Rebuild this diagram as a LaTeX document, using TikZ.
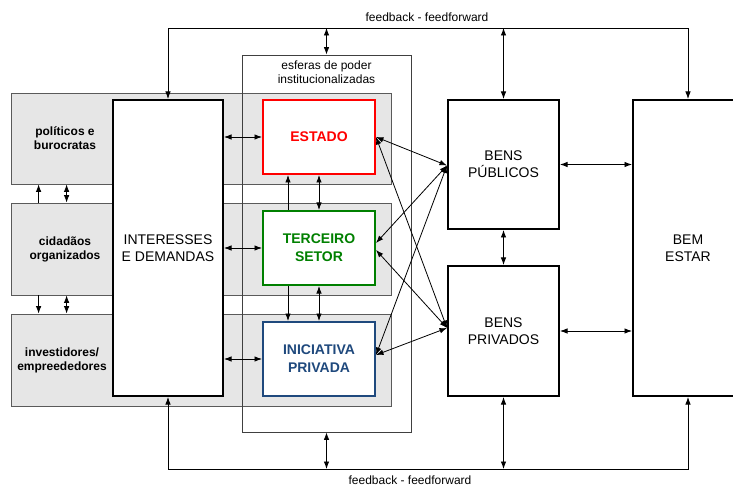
\documentclass[tikz,border=0pt]{standalone}
\usepackage{fontspec}
\setmainfont{Liberation Sans}
\usetikzlibrary{arrows.meta}
\definecolor{bandfill}{RGB}{230,230,230}
\definecolor{bandline}{RGB}{90,90,90}
\definecolor{estred}{RGB}{255,0,0}
\definecolor{tergreen}{RGB}{0,128,0}
\definecolor{iniblue}{RGB}{31,73,125}
\begin{document}
\begin{tikzpicture}[
		x=1pt, y=-1pt,
		band/.style={draw=bandline, fill=bandfill, line width=0.8pt, minimum width=380pt, minimum height=92pt, inner sep=0pt},
		box/.style={draw=black, line width=2pt, fill=white, align=center, inner sep=0pt, font=\fontsize{14}{17}\selectfont},
		sfera/.style={box, font=\bfseries\fontsize{14}{18}\selectfont, minimum width=112pt, minimum height=74pt},
		lbl/.style={font=\bfseries\fontsize{12}{14}\selectfont, align=center},
		txt/.style={font=\fontsize{12}{14}\selectfont, align=center},
		arr/.style={-{Latex[length=7.5pt,width=5.5pt]}, line width=0.8pt},
		darr/.style={{Latex[length=7.5pt,width=5.5pt]}-{Latex[length=7.5pt,width=5.5pt]}, line width=0.8pt}
		]
		\useasboundingbox (0,0) rectangle (733,486);
		% --- faixas dos atores ---
		\node[band, minimum height=91pt] (b1) at (201,138.5) {};
		\node[band] (b2) at (201,249) {};
		\node[band] (b3) at (201,360) {};
		\node[lbl] (pol) at (65,138) {políticos e\\burocratas};
		\node[lbl] (cid) at (65,249) {cidadãos\\organizados};
		\node[lbl] (inv) at (62,360) {investidores/\\empreededores};
		\draw[arr] ([xshift=28pt]b2.north west) -- ([xshift=28pt]b1.south west);
		\draw[darr] ([xshift=56pt]b2.north west) -- ([xshift=56pt]b1.south west);
		\draw[arr] ([xshift=28pt]b2.south west) -- ([xshift=28pt]b3.north west);
		\draw[darr] ([xshift=56pt]b2.south west) -- ([xshift=56pt]b3.north west);
		% --- esferas de poder ---
		\node[draw=black!75, line width=0.8pt, minimum width=169pt, minimum height=377pt, inner sep=0pt] (esf) at (326.5,243.5) {};
		\node[txt] (esft) at (326.5,72) {esferas de poder\\institucionalizadas};
		\node[box, minimum width=110pt, minimum height=296pt] (ies) at (168,248) {INTERESSES\\E DEMANDAS};
		\node[sfera, draw=estred, text=estred] (est) at (319,137) {ESTADO};
		\node[sfera, draw=tergreen, text=tergreen] (ter) at (319,248) {TERCEIRO\\SETOR};
		\node[sfera, draw=iniblue, text=iniblue] (ini) at (319,359) {INICIATIVA\\PRIVADA};
		\draw[darr] (ies.east |- est.west) -- (est.west);
		\draw[darr] (ies.east |- ter.west) -- (ter.west);
		\draw[darr] (ies.east |- ini.west) -- (ini.west);
		\draw[arr] ([xshift=-31pt]ter.north) -- ([xshift=-31pt]est.south);
		\draw[darr] (ter.north) -- (est.south);
		\draw[arr] ([xshift=-31pt]ter.south) -- ([xshift=-31pt]ini.north);
		\draw[darr] (ter.south) -- (ini.north);
		% --- bens e bem estar ---
		\node[box, minimum width=111pt, minimum height=129pt] (pub) at (503.5,164.5) {BENS\\PÚBLICOS};
		\node[box, minimum width=111pt, minimum height=130pt] (priv) at (503.5,331) {BENS\\PRIVADOS};
		\node[box, minimum width=110pt, minimum height=296pt] (bem) at (688,248) {BEM\\ESTAR};
		\draw[darr] (est.east) -- ([yshift=-1pt]pub.west);
		\draw[darr] (est.east) -- ([yshift=3pt]priv.west);
		\draw[darr] ([yshift=5pt]ter.east) -- ([yshift=-1pt]pub.west);
		\draw[darr] ([yshift=-2pt]ter.east) -- ([yshift=3pt]priv.west);
		\draw[darr] ([yshift=4pt]ini.east) -- ([yshift=-1pt]pub.west);
		\draw[darr] ([yshift=4pt]ini.east) -- ([yshift=3pt]priv.west);
		\draw[darr] (pub.east) -- (pub.east -| bem.west);
		\draw[darr] (priv.east) -- (priv.east -| bem.west);
		\draw[darr] (pub.south) -- (priv.north);
		% --- feedback - feedforward ---
		\coordinate (fbt) at (0,28);
		\coordinate (fbb) at (0,469);
		\node[txt] (fbtl) at (427,17) {feedback - feedforward};
		\node[txt] (fbbl) at (410,480) {feedback - feedforward};
		\draw[darr] (ies.north) -- (ies.north |- fbt) -- (bem.north |- fbt) -- (bem.north);
		\draw[darr] (esf.north) -- (esf.north |- fbt);
		\draw[darr] (pub.north) -- (pub.north |- fbt);
		\draw[darr] (ies.south) -- (ies.south |- fbb) -- (bem.south |- fbb) -- (bem.south);
		\draw[darr] (esf.south) -- (esf.south |- fbb);
		\draw[darr] (priv.south) -- (priv.south |- fbb);
	\end{tikzpicture}
\end{document}
